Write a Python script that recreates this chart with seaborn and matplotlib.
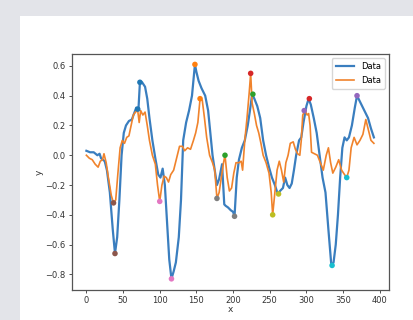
import numpy as np
import pandas as pd
import matplotlib
matplotlib.use('Agg')
import matplotlib.pyplot as plt
import seaborn as sns

"""Data read from the picture"""
blue_x = [0, 5, 10, 15, 18, 20, 25, 28, 32, 36, 39, 42, 45, 48, 51, 54, 58, 62, 65, 68,
          71, 73, 76, 80, 83, 86, 90, 94, 98, 101, 104, 107, 110, 113, 116, 119, 122, 126,
          129, 132, 136, 140, 144, 148, 150, 153, 157, 162, 166, 169, 172, 175, 178, 181,
          185, 188, 190, 193, 197, 200, 202, 205, 208, 212, 216, 220, 223, 226, 229, 233,
          237, 241, 245, 249, 253, 257, 261, 264, 268, 271, 274, 277, 280, 283, 286, 290,
          293, 296, 300, 303, 306, 310, 314, 318, 322, 326, 330, 334, 337, 340, 343, 346,
          349, 352, 355, 358, 362, 366, 369, 372, 376, 380, 384, 388, 392]
blue_y = [0.03, 0.02, 0.02, 0.0, 0.01, -0.02, -0.04, -0.1, -0.25, -0.5, -0.66, -0.55, -0.3,
          0.0, 0.15, 0.2, 0.23, 0.24, 0.28, 0.32, 0.31, 0.49, 0.49, 0.46, 0.38, 0.25, 0.1,
          -0.02, -0.13, -0.15, -0.09, -0.2, -0.45, -0.7, -0.83, -0.78, -0.72, -0.55, -0.3,
          0.1, 0.22, 0.3, 0.4, 0.61, 0.56, 0.5, 0.45, 0.4, 0.3, 0.15, 0.0, -0.1, -0.2,
          -0.16, -0.06, -0.33, -0.34, -0.35, -0.37, -0.38, -0.41, -0.15, -0.03, 0.05, 0.1,
          0.2, 0.3, 0.41, 0.38, 0.33, 0.25, 0.1, 0.0, -0.08, -0.15, -0.2, -0.26, -0.24,
          -0.22, -0.15, -0.2, -0.22, -0.19, -0.1, 0.0, 0.1, 0.12, 0.22, 0.33, 0.38, 0.34,
          0.25, 0.15, 0.0, -0.15, -0.25, -0.5, -0.74, -0.72, -0.6, -0.4, -0.15, 0.05, 0.12,
          0.1, 0.12, 0.2, 0.32, 0.4, 0.37, 0.33, 0.29, 0.25, 0.18, 0.12]

orange_x = [0, 4, 8, 12, 16, 19, 22, 24, 27, 30, 34, 37, 40, 43, 46, 49, 52, 55, 58, 61,
            64, 67, 70, 72, 74, 77, 80, 83, 86, 90, 94, 97, 100, 103, 106, 109, 112, 115,
            119, 123, 127, 131, 134, 138, 142, 146, 149, 152, 155, 158, 161, 164, 168, 172,
            175, 178, 181, 184, 187, 189, 192, 195, 198, 201, 204, 208, 211, 213, 216, 219,
            222, 224, 226, 229, 232, 235, 238, 241, 245, 249, 252, 254, 257, 260, 263, 266,
            269, 272, 275, 278, 282, 285, 288, 291, 293, 295, 298, 301, 303, 305, 307, 311,
            315, 319, 323, 327, 330, 333, 336, 340, 344, 348, 352, 355, 358, 361, 365, 369,
            373, 377, 381, 384, 388, 392]
orange_y = [0.0, -0.02, -0.03, -0.06, -0.08, -0.04, -0.03, 0.01, -0.05, -0.15, -0.27,
            -0.32, -0.3, -0.12, 0.05, 0.1, 0.08, 0.12, 0.13, 0.2, 0.27, 0.29, 0.3, 0.22,
            0.3, 0.27, 0.29, 0.2, 0.1, 0.0, -0.06, -0.2, -0.31, -0.2, -0.14, -0.15, -0.18,
            -0.13, -0.1, -0.02, 0.06, 0.06, 0.03, 0.05, 0.04, 0.1, 0.15, 0.22, 0.38, 0.37,
            0.25, 0.12, 0.0, -0.05, -0.1, -0.29, -0.25, -0.15, -0.05, 0.0, -0.15, -0.24,
            -0.22, -0.12, -0.05, -0.05, -0.04, -0.1, 0.1, 0.25, 0.42, 0.55, 0.35, 0.28, 0.2,
            0.15, 0.08, 0.0, -0.05, -0.12, -0.25, -0.4, -0.25, -0.1, -0.04, -0.1, -0.18,
            -0.05, 0.0, 0.08, 0.09, 0.04, 0.01, 0.0, 0.1, 0.27, 0.3, 0.27, 0.28, 0.2, 0.02,
            0.01, 0.0, -0.05, -0.1, 0.0, 0.05, -0.05, -0.12, -0.08, -0.03, -0.1, -0.13,
            -0.15, -0.1, 0.05, 0.12, 0.07, 0.1, 0.14, 0.24, 0.18, 0.1, 0.08]

# peaks / troughs marked on both series, one colour per pair
mark_x = [73, 70, 148, 155, 189, 227, 224, 304, 297, 369,
          39, 37, 100, 116, 178, 202, 254, 262, 335, 355]
mark_y = [0.49, 0.31, 0.61, 0.38, 0.0, 0.41, 0.55, 0.38, 0.30, 0.40,
          -0.66, -0.32, -0.31, -0.83, -0.29, -0.41, -0.40, -0.26, -0.74, -0.15]
mark_colors = ['tab:blue', 'tab:blue', 'tab:orange', 'tab:orange', 'tab:green', 'tab:green',
               'tab:red', 'tab:red', 'tab:purple', 'tab:purple', 'tab:brown', 'tab:brown',
               'tab:pink', 'tab:pink', 'tab:gray', 'tab:gray', 'tab:olive', 'tab:olive',
               'tab:cyan', 'tab:cyan']

"""Figure"""
fig = plt.figure(figsize=(4.14, 3.2), dpi=100, facecolor='#e3e4e9')
# white card the chart sits on
fig.patches.append(plt.Rectangle((20 / 414, 0), 1, 1 - 16 / 320, transform=fig.transFigure,
                                 facecolor='white', edgecolor='none', zorder=-10))
ax = fig.add_axes([72 / 414, 30 / 320, 317 / 414, 236 / 320])

sns.lineplot(x=blue_x, y=blue_y, ax=ax, color='#3a7ebf', linewidth=1.6, label='Data',
             estimator=None, sort=False)
sns.lineplot(x=orange_x, y=orange_y, ax=ax, color='#f0832c', linewidth=1.2, label='Data',
             estimator=None, sort=False)
sns.scatterplot(x=mark_x, y=mark_y, ax=ax, c=mark_colors, s=16, linewidth=0, zorder=3,
                legend=False)

ax.set_xlim(-19.6, 412.6)
ax.set_ylim(-0.905, 0.68)
ax.set_xticks([0, 50, 100, 150, 200, 250, 300, 350, 400])
ax.set_yticks([-0.8, -0.6, -0.4, -0.2, 0.0, 0.2, 0.4, 0.6])
ax.tick_params(labelsize=6, length=2.5, width=0.6, colors='#333333', pad=2)
for s in ax.spines.values():
    s.set_color('#555555')
    s.set_linewidth(0.9)
ax.set_xlabel('x', fontsize=6.5, labelpad=0, color='#333333')
ax.set_ylabel('y', fontsize=6.5, labelpad=1, color='#333333')
ax.legend(loc='upper right', fontsize=6, handlelength=2.2, borderpad=0.5,
          labelspacing=0.5, framealpha=0.8)

fig.savefig('out.png', dpi=100, facecolor=fig.get_facecolor())
